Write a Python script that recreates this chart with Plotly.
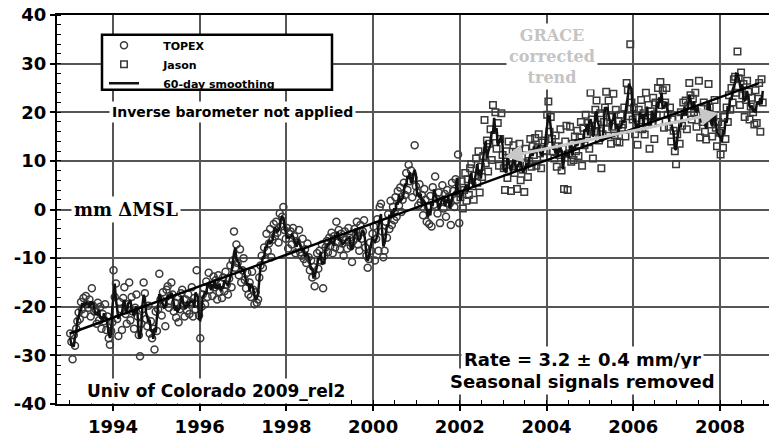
import plotly.graph_objects as go
import pandas as pd

# ---------------- data (mm) ----------------
POINTS_PER_YEAR = 36  # ~10-day altimeter cycles

topex_start_year = 1993
topex_mm = [
    # 1993
    -25.5, -27.2, -30.8, -25.8, -28.0, -24.5, -23.0, -21.2, -22.5, -19.0, -20.5, -18.2,
    -21.5, -17.8, -19.5, -20.2, -18.5, -22.0, -16.2, -19.8, -21.0, -20.5, -23.5, -19.2,
    -22.8, -20.0, -24.5, -21.5, -23.0, -19.5, -24.8, -22.0, -26.5, -27.8, -25.0, -23.2,
    # 1994
    -12.5, -18.0, -15.2, -22.5, -26.0, -19.0, -20.5, -24.8, -18.2, -16.0, -21.5, -23.5,
    -19.5, -15.0, -22.8, -18.0, -21.0, -24.5, -20.2, -17.5, -22.0, -25.8, -30.2, -23.5,
    -20.5, -15.0, -17.2, -22.5, -24.0, -19.8, -25.5, -23.0, -26.5, -24.5, -28.8, -21.0,
    # 1995
    -25.0, -20.5, -13.2, -18.5, -21.8, -17.0, -19.5, -24.0, -16.5, -15.8, -20.2, -18.8,
    -15.0, -17.5, -21.0, -19.2, -22.2, -18.0, -23.2, -20.5, -17.2, -16.5, -19.8, -22.0,
    -18.5, -20.8, -17.5, -21.5, -19.0, -16.0, -22.0, -18.2, -20.5, -12.5, -19.5, -21.8,
    # 1996
    -26.5, -20.0, -17.5, -16.2, -19.5, -14.8, -18.0, -13.0, -16.5, -15.5, -17.8, -13.8,
    -16.0, -14.5, -18.5, -13.5, -17.0, -15.2, -18.2, -14.0, -16.8, -12.8, -15.5, -17.5,
    -14.2, -11.5, -16.0, -10.5, -4.5, -12.0, -7.2, -11.0, -13.5, -8.2, -15.0, -12.5,
    # 1997
    -10.0, -14.5, -16.2, -13.0, -17.5, -15.0, -18.0, -12.8, -16.5, -19.5, -17.0, -19.2,
    -18.5, -14.0, -11.5, -9.5, -12.0, -7.8, -10.2, -5.0, -8.5, -7.0, -4.0, -9.8,
    -6.2, -3.0, -5.5, -2.5, -4.8, -6.8, -0.8, -3.5, -1.5, 0.5, -4.2, -6.0,
    # 1998
    -3.8, -8.0, -5.0, -4.5, -7.2, -3.8, -5.5, -9.0, -6.5, -7.5, -4.2, -8.8,
    -9.5, -6.0, -10.2, -8.2, -11.0, -7.0, -9.8, -12.5, -10.5, -14.0, -11.8, -15.8,
    -13.5, -9.0, -12.2, -8.5, -10.5, -7.2, -16.2, -9.5, -7.8, -6.5, -8.8, -5.8,
    # 1999
    -7.5, -4.8, -9.0, -5.5, -7.8, -2.5, -6.8, -4.2, -8.2, -5.0, -7.0, -9.5,
    -4.5, -6.2, -8.0, -3.8, -5.8, -7.5, -10.8, -6.5, -4.0, -5.2, -2.5, -7.2,
    -8.5, -3.2, -6.0, -4.5, -2.2, -7.8, -9.5, -12.0, -10.2, -6.8, -8.5, -5.0,
    # 2000
    -3.5, -10.5, -6.0, -2.0, -8.5, 0.5, 1.2, -4.5, -9.8, -8.5, -2.5, -5.8,
    -1.0, -4.0, 1.8, -3.2, 0.5, -2.2, 2.5, -1.5, 3.8, 0.8, 4.5, -0.5,
    2.0, 5.5, 3.0, 7.5, 4.0, 9.2, 5.8, 8.0, 2.5, 6.5, 13.2, 4.8,
    # 2001
    3.5, 0.8, 5.2, 1.5, 3.0, -1.2, 4.2, 2.0, -2.5, 0.5, -3.0, 2.8,
    -3.5, 4.6, 1.0, 6.8, 2.2, -0.8, 3.5, -2.8, 1.8, 5.0, 0.2, 3.2,
    -1.5, 4.0, 2.5, 1.2, -3.2, 5.5, 3.8, 0.5, 6.2, 2.0, 11.3, -2.8,
]

jason_start_year = 2002
jason_mm = [
    # 2002
    2.5, 5.8, 0.2, 4.0, 7.5, 1.8, 6.2, 3.0, 8.5, 9.3, 4.8, 2.0,
    7.0, 10.5, 5.5, 12.0, 3.5, 8.8, 6.7, 11.0, 18.4, 9.5, 14.2, 7.8,
    13.5, 16.5, 10.2, 21.5, 15.0, 20.0, 12.5, 17.8, 9.0, 14.5, 19.8, 11.2,
    # 2003
    8.5, 4.0, 12.0, 6.5, 14.0, 9.2, 3.8, 10.5, 13.2, 7.5, 11.8, 4.2,
    9.8, 13.5, 6.0, 11.0, 8.2, 3.6, 12.5, 9.5, 6.7, 10.0, 14.5, 8.8,
    13.0, 11.2, 14.7, 9.0, 12.8, 15.5, 11.5, 8.5, 13.8, 10.8, 14.2, 12.0,
    # 2004
    19.5, 22.2, 16.0, 19.0, 14.5, 12.0, 10.5, 15.2, 8.8, 13.0, 11.2, 16.5,
    8.0, 12.5, 4.2, 14.0, 17.2, 4.0, 11.5, 17.0, 9.8, 13.5, 10.2, 15.0,
    12.0, 16.2, 11.0, 14.8, 18.0, 9.0, 16.8, 13.2, 19.5, 15.5, 17.8, 12.5,
    # 2005
    24.0, 18.5, 10.5, 16.0, 20.5, 22.4, 17.5, 14.2, 19.8, 8.5, 15.5, 18.0,
    21.0, 24.2, 16.5, 22.4, 19.0, 13.5, 17.0, 23.8, 15.2, 20.5, 14.0, 18.2,
    13.8, 19.5, 16.8, 17.5, 21.0, 15.0, 26.0, 24.5, 19.2, 34.0, 22.0, 18.5,
    # 2006
    21.0, 15.5, 18.8, 13.3, 20.5, 17.0, 22.5, 16.5, 19.8, 15.4, 24.0, 18.0,
    21.5, 12.5, 20.2, 17.8, 23.0, 14.5, 22.0, 19.5, 25.0, 18.0, 26.2, 21.5,
    24.5, 16.8, 22.0, 25.0, 19.5, 17.0, 21.0, 14.0, 18.5, 16.2, 12.0, 9.3,
    # 2007
    15.5, 18.8, 13.5, 20.0, 17.2, 22.0, 19.0, 22.4, 16.5, 21.4, 26.0, 23.5,
    18.5, 22.8, 20.0, 24.0, 17.0, 19.5, 26.5, 14.8, 20.8, 18.0, 22.0, 16.0,
    14.4, 19.5, 25.8, 21.0, 17.5, 15.0, 19.0, 22.5, 16.8, 13.0, 18.0, 15.8,
    # 2008
    11.3, 17.5, 12.7, 19.0, 14.5, 21.0, 18.0, 23.5, 20.5, 25.0, 22.0, 26.8,
    27.3, 24.0, 32.5, 27.0, 21.5, 28.2, 23.5, 25.8, 19.0, 22.5, 26.5, 24.2,
    18.5, 21.2, 23.0, 20.0, 17.5, 24.5, 17.8, 22.8, 26.0, 16.0, 26.8, 22.0,
]

trend_years = [1993.0, 2008.9]
trend_mm = [-25.5, 26.0]

x_tick_years = [1994, 1996, 1998, 2000, 2002, 2004, 2006, 2008]
x_tick_labels = ["1994", "1996", "1998", "2000", "2002", "2004", "2006", "2008"]
y_tick_values = [-40, -30, -20, -10, 0, 10, 20, 30, 40]
y_tick_labels = ["-40", "-30", "-20", "-10", "0", "10", "20", "30", "40"]

SMOOTH_WINDOW_CYCLES = 3  # ~60-day running window


def cycle_times(start_year, n):
    return [start_year + (i + 0.5) / POINTS_PER_YEAR for i in range(n)]


topex_t = cycle_times(topex_start_year, len(topex_mm))
jason_t = cycle_times(jason_start_year, len(jason_mm))

all_t = topex_t + jason_t
all_mm = pd.Series(topex_mm + jason_mm)
smooth_mm = all_mm.rolling(SMOOTH_WINDOW_CYCLES, center=True, min_periods=1).mean()

# ---------------- figure ----------------
SANS = "DejaVu Sans"
SERIF = "DejaVu Serif"
MARK = "#3a3a3a"
PAD = "\u00a0" * 5  # gap between legend symbol and its label

fig = go.Figure()
fig.add_trace(go.Scatter(
    x=topex_t, y=topex_mm, mode="markers", name=PAD + "TOPEX",
    marker=dict(symbol="circle-open", size=7, color=MARK, line=dict(width=1.5)),
))
fig.add_trace(go.Scatter(
    x=jason_t, y=jason_mm, mode="markers", name=PAD + "Jason",
    marker=dict(symbol="square-open", size=6.5, color=MARK, line=dict(width=1.5)),
))
fig.add_trace(go.Scatter(
    x=all_t, y=smooth_mm, mode="lines", name=PAD + "60-day smoothing",
    line=dict(color="#111111", width=2.5),
))
fig.add_trace(go.Scatter(
    x=trend_years, y=trend_mm, mode="lines", showlegend=False,
    line=dict(color="black", width=2.5),
))

L, R, T, B = 57, 0, 15, 26
W, H = 769, 437
PW, PH = W - L - R, H - T - B


def px_x(px):
    return (px - L) / PW


def px_y(py):
    return (H - B - py) / PH


axis_common = dict(
    showgrid=True, gridcolor="#555555", gridwidth=1.5,
    showline=True, linecolor="black", linewidth=2,
    ticks="outside", ticklen=5, tickwidth=1.5, tickcolor="black",
    zeroline=False,
    tickfont=dict(family=SANS, size=18, color="black", weight="bold"),
)

fig.update_xaxes(
    range=[1992.71, 2009.13], tickmode="array",
    tickvals=x_tick_years, ticktext=x_tick_labels, mirror=True,
    minor=dict(tick0=1994, dtick=0.5, ticks="inside", ticklen=4,
               tickcolor="black", tickwidth=1, showgrid=False),
    **axis_common,
)
fig.update_yaxes(
    range=[-40, 40], tickmode="array",
    tickvals=y_tick_values, ticktext=y_tick_labels, mirror=False,
    minor=dict(tick0=0, dtick=2, ticks="inside", ticklen=4,
               tickcolor="black", tickwidth=1, showgrid=False),
    **axis_common,
)

# legend box
fig.add_shape(type="rect", xref="paper", yref="paper",
              x0=px_x(102), x1=px_x(332), y0=px_y(91), y1=px_y(35),
              line=dict(color="black", width=2.5), fillcolor="white", layer="above")

annots = [
    dict(x=1996.75, y=20, text="Inverse barometer not applied",
         font=dict(family=SANS, size=14, color="black", weight="bold")),
    dict(x=1994.3, y=0, text="mm \u0394MSL",
         font=dict(family=SERIF, size=18, color="black", weight="bold")),
    dict(x=1996.38, y=-37.4, text="Univ of Colorado 2009_rel2",
         font=dict(family=SANS, size=17, color="black", weight="bold")),
    dict(x=2004.84, y=-30.9, text="Rate = 3.2 \u00b1 0.4 mm/yr",
         font=dict(family=SANS, size=18, color="black", weight="bold")),
    dict(x=2004.84, y=-35.4, text="Seasonal signals removed",
         font=dict(family=SANS, size=18, color="black", weight="bold")),
    dict(x=2004.13, y=31.5, text="GRACE<br>corrected<br>trend",
         font=dict(family=SERIF, size=16, color="#c4c4c4", weight="bold")),
]
for a in annots:
    fig.add_annotation(xref="x", yref="y", showarrow=False, bgcolor="white",
                       borderpad=2, **a)

# GRACE corrected trend double arrow
fig.add_annotation(
    x=2007.96, y=19.8, ax=2003.0, ay=10.7, xref="x", yref="y", axref="x", ayref="y",
    text="", showarrow=True, arrowhead=2, startarrowhead=2, arrowside="end+start",
    arrowsize=1.2, startarrowsize=1.2, arrowwidth=3, arrowcolor="#c8c8c8",
)

fig.update_layout(
    width=W, height=H,
    margin=dict(l=L, r=R, t=T, b=B, pad=0),
    paper_bgcolor="white", plot_bgcolor="white",
    showlegend=True,
    legend=dict(
        x=px_x(104), y=px_y(31), xanchor="left", yanchor="top",
        bgcolor="rgba(0,0,0,0)", borderwidth=0, itemwidth=30,
        font=dict(family=SANS, size=11, color="black", weight="bold"),
        tracegroupgap=0,
    ),
)

fig.write_html(
    "out.html",
    config={"displayModeBar": False},
    post_script="document.body.style.margin='0';document.body.style.overflow='hidden';",
)
